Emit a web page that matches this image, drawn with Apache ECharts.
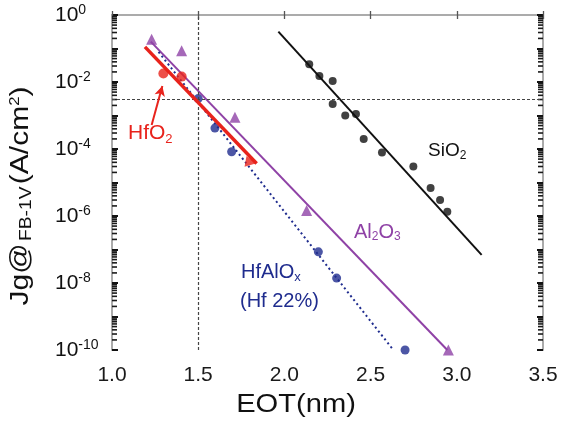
<!DOCTYPE html>
<html>
<head>
<meta charset="utf-8">
<script src="https://cdn.jsdelivr.net/npm/echarts@6/dist/echarts.min.js"></script>
<style>
  html, body { margin: 0; padding: 0; background: #fff; }
  #chart { width: 562px; height: 425px; }
</style>
</head>
<body>
<div id="chart"></div>
<script>
// Gate leakage current density at Vfb-1V versus equivalent oxide thickness
const xTicks = [1.0, 1.5, 2.0, 2.5, 3.0, 3.5];
const yDecades = [-10, -8, -6, -4, -2, 0];   // labelled powers of ten

// SiO2 measurements and fitted trend
const sio2Eot = [2.144, 2.203, 2.28, 2.28, 2.353, 2.415, 2.46, 2.566, 2.748, 2.848, 2.903, 2.945];
const sio2Jg  = [3.4e-2, 1.5e-2, 1.07e-2, 2.2e-3, 1.0e-3, 1.1e-3, 2.0e-4, 7.9e-5, 3.0e-5, 6.8e-6, 3.0e-6, 1.35e-6];
const sio2FitEot = [1.965, 3.144];
const sio2FitJg  = [3.2e-1, 6.9e-8];

// HfO2 measurements and fitted trend
const hfo2Eot = [1.298, 1.404];
const hfo2Jg  = [1.8e-2, 1.45e-2];
const hfo2EndEot = [1.806];
const hfo2EndJg  = [4.0e-5];
const hfo2FitEot = [1.191, 1.839];
const hfo2FitJg  = [1.12e-1, 3.7e-5];

// HfAlOx (Hf 22%) measurements and fitted trend
const hfalEot = [1.50, 1.597, 1.694, 2.197, 2.303, 2.70];
const hfalJg  = [3.2e-3, 4.2e-4, 8.3e-5, 8.5e-8, 1.4e-8, 1.0e-10];
const hfalFitEot = [1.27, 2.632];
const hfalFitJg  = [7.9e-2, 1.0e-10];

// Al2O3 measurements and fitted trend
const al2o3Eot = [1.23, 1.404, 1.713, 2.129, 2.951];
const al2o3Jg  = [1.9e-1, 8.5e-2, 8.9e-4, 1.45e-6, 1.0e-10];
const al2o3FitEot = [1.225, 2.945];
const al2o3FitJg  = [1.6e-1, 1.0e-10];

// Reference levels
const refEot = 1.5;
const refJg = 3e-3;

// HfO2 callout arrow (tail, head)
const arrowFrom = [1.23, 5.2e-4];
const arrowTo = [1.292, 7.6e-3];

const RED = '#e8231c';
const BLUE = '#1f2c8e';
const PURPLE = '#8f42a6';
const BLACK = '#111111';
const FONT = 'Liberation Sans, Arial, sans-serif';

// the vertical axis runs in powers of ten
const lg = v => Math.log10(v);
function pairs(xs, ys) { return xs.map((x, i) => [x, lg(ys[i])]); }

// logarithmic minor tick positions (2..9 within each decade)
const minorTicks = [];
for (let n = -10; n < 0; n++) {
  for (let k = 2; k <= 9; k++) minorTicks.push([0, n + Math.log10(k)]);
}

const chart = echarts.init(document.getElementById('chart'), null, { renderer: 'canvas' });

const axisLineStyle = { color: '#ababab', width: 2 };
const xTickStyle = { color: '#555', width: 1.3 };
const yTickStyle = { color: '#111', width: 2 };

const X_MIN = 1.0, X_MAX = 3.5, Y_MIN = -10, Y_MAX = 0;

chart.setOption({
  animation: false,
  backgroundColor: '#fff',
  grid: { left: 112, right: 19, top: 15, bottom: 75 },
  xAxis: [
    {
      type: 'value', min: X_MIN, max: X_MAX, interval: 0.5, position: 'bottom',
      axisLine: { show: true, lineStyle: axisLineStyle },
      axisTick: { show: true, inside: true, length: 4, lineStyle: xTickStyle },
      splitLine: { show: false },
      axisLabel: {
        margin: 15, color: '#1a1a1a', fontSize: 21, fontFamily: FONT,
        formatter: v => xTicks.includes(+v.toFixed(1)) ? v.toFixed(1) : ''
      }
    },
    {
      type: 'value', min: X_MIN, max: X_MAX, interval: 0.5, position: 'top',
      axisLine: { show: true, lineStyle: axisLineStyle },
      axisTick: { show: true, inside: true, length: 4, lineStyle: xTickStyle },
      axisLabel: { show: false }, splitLine: { show: false }
    }
  ],
  yAxis: [
    {
      type: 'value', min: Y_MIN, max: Y_MAX, interval: 1, position: 'left',
      axisLine: { show: true, lineStyle: axisLineStyle },
      axisTick: { show: true, inside: true, length: 6, lineStyle: yTickStyle },
      splitLine: { show: false },
      axisLabel: {
        margin: 57, align: 'left', fontFamily: FONT,
        formatter: v => {
          const e = Math.round(v);
          return yDecades.includes(e) ? '{b|10}{s|' + e + '}' : '';
        },
        rich: {
          b: { fontSize: 21, color: '#111', fontFamily: FONT },
          s: { fontSize: 14, color: '#111', fontFamily: FONT, verticalAlign: 'top', padding: [0, 0, 9, 0] }
        }
      }
    },
    {
      type: 'value', min: Y_MIN, max: Y_MAX, interval: 1, position: 'right',
      axisLine: { show: true, lineStyle: axisLineStyle },
      axisTick: { show: true, inside: true, length: 6, lineStyle: yTickStyle },
      axisLabel: { show: false }, splitLine: { show: false }
    }
  ],
  series: [
    {
      // logarithmic minor ticks on both vertical frame edges
      type: 'custom', data: minorTicks, silent: true, clip: false, z: 1,
      renderItem: (params, api) => {
        const e = api.value(1);
        const l = api.coord([X_MIN, e]);
        const r = api.coord([X_MAX, e]);
        const style = { stroke: '#1a1a1a', lineWidth: 1.6 };
        return {
          type: 'group',
          children: [
            { type: 'line', shape: { x1: l[0], y1: l[1], x2: l[0] + 5, y2: l[1] }, style },
            { type: 'line', shape: { x1: r[0], y1: r[1], x2: r[0] - 5, y2: r[1] }, style }
          ]
        };
      }
    },
    {
      name: 'SiO2 fit', type: 'line', data: pairs(sio2FitEot, sio2FitJg),
      showSymbol: false, lineStyle: { color: BLACK, width: 2 }, z: 3,
      markLine: {
        silent: true, animation: false, symbol: 'none', label: { show: false },
        data: [
          { xAxis: refEot, lineStyle: { color: '#444', type: [3, 2], width: 1.2 } },
          { yAxis: lg(refJg), lineStyle: { color: '#444', type: [3, 2], width: 1.2 } }
        ]
      }
    },
    {
      name: 'SiO2', type: 'scatter', data: pairs(sio2Eot, sio2Jg),
      symbol: 'circle', symbolSize: 8, itemStyle: { color: BLACK }, z: 4
    },
    {
      name: 'Al2O3 fit', type: 'line', data: pairs(al2o3FitEot, al2o3FitJg),
      showSymbol: false, lineStyle: { color: PURPLE, width: 2 }, z: 3
    },
    {
      name: 'Al2O3', type: 'scatter', data: pairs(al2o3Eot, al2o3Jg),
      symbol: 'triangle', symbolSize: 11, itemStyle: { color: PURPLE }, z: 4
    },
    {
      name: 'HfAlOx fit', type: 'line', data: pairs(hfalFitEot, hfalFitJg),
      showSymbol: false, lineStyle: { color: BLUE, width: 2, type: [2, 3] }, z: 3
    },
    {
      name: 'HfAlOx', type: 'scatter', data: pairs(hfalEot, hfalJg),
      symbol: 'circle', symbolSize: 9, itemStyle: { color: BLUE }, z: 4
    },
    {
      name: 'HfO2 fit', type: 'line', data: pairs(hfo2FitEot, hfo2FitJg),
      showSymbol: false, lineStyle: { color: RED, width: 3.5 }, z: 5,
      markLine: {
        silent: true, animation: false, label: { show: false },
        data: [[
          { coord: [arrowFrom[0], lg(arrowFrom[1])], symbol: 'none', lineStyle: { color: RED, type: 'solid', width: 2 } },
          { coord: [arrowTo[0], lg(arrowTo[1])], symbol: 'arrow', symbolSize: [8, 10] }
        ]]
      }
    },
    {
      name: 'HfO2', type: 'scatter', data: pairs(hfo2Eot, hfo2Jg),
      symbol: 'circle', symbolSize: 10, itemStyle: { color: RED }, z: 6
    },
    {
      name: 'HfO2 end', type: 'scatter', data: pairs(hfo2EndEot, hfo2EndJg),
      symbol: 'triangle', symbolRotate: -100, symbolSize: 11, itemStyle: { color: RED }, z: 6
    }
  ],
  graphic: [
    {
      // vertical axis title
      type: 'text', x: 21, y: 196, rotation: Math.PI / 2, scaleX: 1.2,
      style: {
        text: '{m|Jg@}{sub|FB-1V}{m|(A/cm}{sup|2}{m|)}',
        align: 'center', verticalAlign: 'middle',
        rich: {
          m: { fontSize: 25, fill: '#111', fontFamily: FONT },
          sub: { fontSize: 16, fill: '#111', fontFamily: FONT, padding: [12, 2, 0, 2] },
          sup: { fontSize: 14, fill: '#111', fontFamily: FONT, padding: [0, 0, 12, 0] }
        }
      }
    },
    {
      // horizontal axis title
      type: 'text', x: 296, y: 405, scaleX: 1.12,
      style: { text: 'EOT(nm)', fontSize: 26, fill: '#111', fontFamily: FONT, align: 'center', verticalAlign: 'middle' }
    },
    {
      type: 'text', left: 428, top: 141,
      style: {
        text: '{m|SiO}{s|2}',
        rich: { m: { fontSize: 19, fill: BLACK, fontFamily: FONT }, s: { fontSize: 12, fill: BLACK, fontFamily: FONT, padding: [10, 0, 0, 0] } }
      }
    },
    {
      type: 'text', left: 354, top: 222,
      style: {
        text: '{m|Al}{s|2}{m|O}{s|3}',
        rich: { m: { fontSize: 20, fill: PURPLE, fontFamily: FONT }, s: { fontSize: 12, fill: PURPLE, fontFamily: FONT, padding: [10, 0, 0, 0] } }
      }
    },
    {
      type: 'text', left: 241, top: 262,
      style: {
        text: '{m|HfAlO}{s|x}',
        rich: { m: { fontSize: 20, fill: BLUE, fontFamily: FONT }, s: { fontSize: 13, fill: BLUE, fontFamily: FONT, padding: [10, 0, 0, 0] } }
      }
    },
    {
      type: 'text', left: 240, top: 291,
      style: { text: '(Hf 22%)', fontSize: 20, fill: BLUE, fontFamily: FONT }
    },
    {
      type: 'text', left: 128, top: 123,
      style: {
        text: '{m|HfO}{s|2}',
        rich: { m: { fontSize: 21, fill: RED, fontFamily: FONT }, s: { fontSize: 13, fill: RED, fontFamily: FONT, padding: [11, 0, 0, 0] } }
      }
    }
  ]
});
</script>
</body>
</html>
